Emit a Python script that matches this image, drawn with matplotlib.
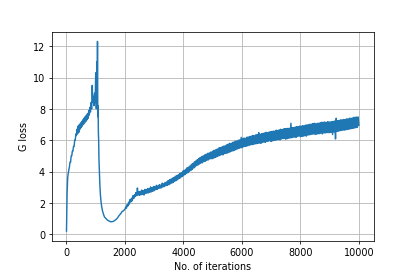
import matplotlib
matplotlib.use('Agg')
import matplotlib.pyplot as plt

# Generator loss
# early part (fine steps, spike region)
iters_early = [0, 20, 40, 60, 80, 100, 120, 140, 160, 180, 200, 220, 240, 260, 280,
               300, 320, 340, 360, 380, 400, 420, 440, 460, 480, 500, 520, 540, 560, 580,
               600, 620, 640, 660, 680, 700, 720, 740, 760, 780, 800, 820, 840, 860, 880,
               900, 920, 940, 960, 980, 1000, 1020, 1040, 1050, 1060, 1070, 1080, 1090, 1100,
               1110, 1120, 1130, 1140, 1160, 1180, 1200, 1230, 1260, 1300, 1350, 1400, 1450,
               1500, 1550, 1600, 1650, 1700, 1750, 1800, 1850, 1900, 1950]
loss_early = [0.2, 2.6, 3.6, 3.9, 4.1, 4.3, 4.6, 4.6, 5.0, 5.0, 5.3, 5.3, 5.6, 5.6, 6.0,
              6.0, 6.4, 6.3, 6.7, 6.4, 6.9, 6.5, 7.0, 6.7, 7.1, 6.8, 7.2, 6.9, 7.3, 7.0,
              7.4, 7.1, 7.5, 7.2, 7.6, 7.3, 7.7, 7.4, 7.9, 7.6, 8.1, 7.8, 8.4, 8.0, 9.5,
              8.4, 8.8, 8.2, 9.0, 8.4, 10.3, 8.0, 11.0, 8.5, 12.3, 7.5, 8.2, 6.5, 6.0,
              4.8, 4.2, 3.6, 3.2, 2.5, 2.1, 1.8, 1.5, 1.3, 1.1, 1.0, 0.9, 0.85,
              0.8, 0.8, 0.82, 0.88, 0.95, 1.05, 1.2, 1.3, 1.45, 1.5]

# later part, every 25 iterations from 2000 to 10000
iters_late = list(range(2000, 10001, 25))
loss_late = [
    1.60, 1.74, 1.66, 1.90, 1.80, 2.05, 1.92, 2.22, 2.06, 2.30, 2.14, 2.46, 2.28, 2.52, 2.40, 2.66, 2.46, 2.95, 2.50, 2.70,
    2.48, 2.74, 2.52, 2.82, 2.55, 2.78, 2.50, 2.86, 2.60, 2.84, 2.62, 2.92, 2.64, 2.90, 2.68, 3.02, 2.70, 2.96, 2.74, 3.04,
    2.78, 3.04, 2.84, 3.12, 2.86, 3.08, 2.92, 3.16, 2.94, 3.14, 2.96, 3.26, 3.02, 3.22, 3.04, 3.30, 3.10, 3.34, 3.12, 3.42,
    3.16, 3.48, 3.22, 3.52, 3.26, 3.58, 3.30, 3.62, 3.38, 3.70, 3.42, 3.74, 3.48, 3.80, 3.56, 3.88, 3.60, 3.92, 3.68, 4.02,
    3.74, 4.08, 3.80, 4.14, 3.88, 4.24, 3.92, 4.28, 4.02, 4.36, 4.06, 4.46, 4.14, 4.52, 4.22, 4.62, 4.30, 4.68, 4.38, 4.76,
    4.42, 4.84, 4.48, 4.90, 4.54, 4.96, 4.56, 5.00, 4.64, 5.06, 4.66, 5.10, 4.72, 5.16, 4.74, 5.18, 4.80, 5.24, 4.82, 5.26,
    4.82, 5.34, 4.88, 5.36, 4.90, 5.42, 4.96, 5.44, 5.00, 5.52, 5.02, 5.52, 5.08, 5.58, 5.06, 5.62, 5.14, 5.64, 5.16, 5.70,
    5.18, 5.74, 5.22, 5.80, 5.26, 5.78, 5.30, 5.86, 5.32, 5.88, 5.36, 5.94, 5.40, 5.94, 5.44, 6.00, 5.48, 6.02, 5.52, 6.18,
    5.52, 6.10, 5.58, 6.14, 5.60, 6.12, 5.62, 6.20, 5.64, 6.20, 5.68, 6.24, 5.70, 6.26, 5.72, 6.30, 5.74, 6.28, 5.76, 6.34,
    5.78, 6.36, 5.80, 6.48, 5.82, 6.38, 5.80, 6.42, 5.86, 6.44, 5.88, 6.46, 5.86, 6.50, 5.92, 6.48, 5.94, 6.52, 5.96, 6.54,
    5.92, 6.56, 5.96, 6.58, 5.98, 6.58, 6.00, 6.64, 6.02, 6.62, 6.04, 6.66, 6.02, 6.70, 6.08, 6.68, 6.10, 6.72, 6.12, 6.74,
    6.06, 6.74, 6.10, 6.76, 6.12, 6.76, 6.14, 7.08, 6.16, 6.80, 6.18, 6.80, 6.20, 6.84, 6.18, 6.86, 6.24, 6.86, 6.26, 6.90,
    6.22, 6.90, 6.24, 6.92, 6.26, 6.92, 6.28, 6.96, 6.26, 6.98, 6.32, 6.98, 6.34, 7.02, 6.36, 7.02, 6.38, 7.06, 6.40, 7.08,
    6.36, 7.06, 6.38, 7.08, 6.40, 7.08, 6.42, 7.12, 6.44, 7.14, 6.40, 7.14, 6.46, 7.16, 6.46, 7.14, 6.48, 7.18, 6.48, 7.18,
    6.48, 7.16, 6.50, 7.18, 6.36, 7.20, 6.52, 7.22, 6.08, 7.40, 6.56, 7.24, 6.58, 7.26, 6.60, 7.30, 6.62, 7.30, 6.64, 7.32,
    6.64, 7.32, 6.66, 7.36, 6.68, 7.36, 6.70, 7.40, 6.72, 7.40, 6.74, 7.42, 6.76, 7.46, 6.78, 7.46, 6.80, 7.48, 6.82, 7.48,
    6.95]

iters = iters_early + iters_late
loss = loss_early + loss_late

fig = plt.figure(figsize=(6, 4), dpi=69.17)
plt.subplots_adjust(left=0.125, right=0.9, top=0.882, bottom=0.128)
plt.plot(iters, loss)
plt.xlabel('No. of iterations')
plt.ylabel('G loss')
plt.grid(True)
plt.savefig('out.png', dpi=69.17)
